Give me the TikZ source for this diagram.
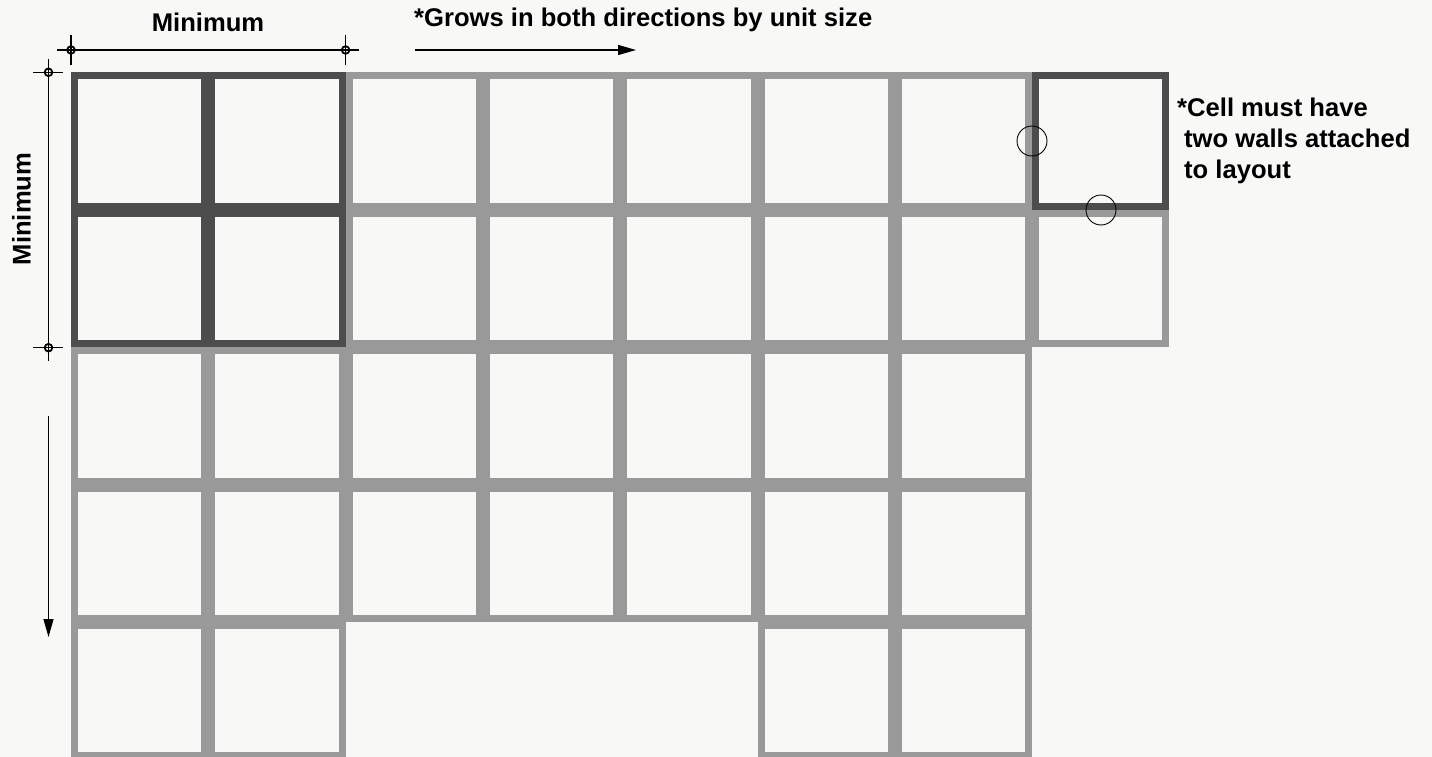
\documentclass[tikz,border=0pt]{standalone}
\usepackage{fontspec}
\setmainfont{Liberation Sans}
\usetikzlibrary{arrows.meta}
\definecolor{bgcol}{HTML}{F8F8F7}
\definecolor{wallL}{HTML}{999999}
\definecolor{wallD}{HTML}{4D4D4D}
\tikzset{
  cellL/.style={draw=wallL, line width=7pt, minimum width=130.3pt, minimum height=130.4pt, inner sep=0pt, outer sep=0pt, anchor=center},
  cellD/.style={cellL, draw=wallD},
  dimline/.style={line width=1.2pt, draw=black},
  dimmark/.style={line width=1.8pt, draw=black},
  lbl/.style={font=\fontsize{25.6}{30}\selectfont\bfseries, inner sep=0pt, text=black},
  growarrow/.style={line width=1.2pt, -{Triangle[length=18pt,width=10pt]}},
  attach/.style={line width=0.9pt, draw=black},
}
\begin{document}
\begin{tikzpicture}[x=1pt,y=-1pt]
\fill[bgcol] (0,0) rectangle (1432,757);
\useasboundingbox (0,0) rectangle (1432,757);
% light cells
\foreach \i/\j in {2/0,3/0,4/0,5/0,6/0,2/1,3/1,4/1,5/1,6/1,7/1,
                   0/2,1/2,2/2,3/2,4/2,5/2,6/2,
                   0/3,1/3,2/3,3/3,4/3,5/3,6/3,
                   0/4,1/4,5/4,6/4}
  \node[cellL] (c\i\j) at ({71+137.3*(\i+0.5)},{72.3+137.4*(\j+0.5)}) {};
% dark cells
\foreach \i/\j in {0/0,1/0,0/1,1/1,7/0}
  \node[cellD] (c\i\j) at ({71+137.3*(\i+0.5)},{72.3+137.4*(\j+0.5)}) {};
% horizontal dimension
\coordinate (hd1) at (57,50);
\coordinate (hd2) at (359,50);
\coordinate (ht1a) at (71,35); \coordinate (ht1b) at (71,65);
\coordinate (ht2a) at (345.6,35); \coordinate (ht2b) at (345.6,65);
\draw[dimline] (hd1) -- (hd2);
\draw[dimline] (ht1a) -- (ht1b);
\draw[dimline] (ht2a) -- (ht2b);
\draw[dimmark] (71,50) circle (3.8);
\draw[dimmark] (345.6,50) circle (3.8);
% vertical dimension
\coordinate (vd1) at (48.5,59);
\coordinate (vd2) at (48.5,361);
\coordinate (vt1a) at (33,72.3); \coordinate (vt1b) at (63,72.3);
\coordinate (vt2a) at (33,347.7); \coordinate (vt2b) at (63,347.7);
\draw[dimline] (vd1) -- (vd2);
\draw[dimline] (vt1a) -- (vt1b);
\draw[dimline] (vt2a) -- (vt2b);
\draw[dimmark] (48.5,72.3) circle (3.8);
\draw[dimmark] (48.5,347.7) circle (3.8);
% growth arrows
\coordinate (ga1) at (415,50); \coordinate (ga2) at (636,50);
\draw[growarrow] (ga1) -- (ga2);
\coordinate (gb1) at (48.5,416); \coordinate (gb2) at (48.5,637);
\draw[growarrow] (gb1) -- (gb2);
% attachment circles
\draw[attach] (1032,141) circle (15);
\draw[attach] (1101,210) circle (15);
% labels
\node[lbl, anchor=base] (mintop) at (208,32) {Minimum};
\node[lbl, anchor=center, rotate=90] (minleft) at (21.5,209) {Minimum};
\node[lbl, anchor=base west] (grows) at (414,27) {*Grows in both directions by unit size};
\node[lbl, anchor=base west] (note1) at (1177,117) {*Cell must have};
\node[lbl, anchor=base west] (note2) at (1184,147.5) {two walls attached};
\node[lbl, anchor=base west] (note3) at (1184,178) {to layout};
\end{tikzpicture}
\end{document}
